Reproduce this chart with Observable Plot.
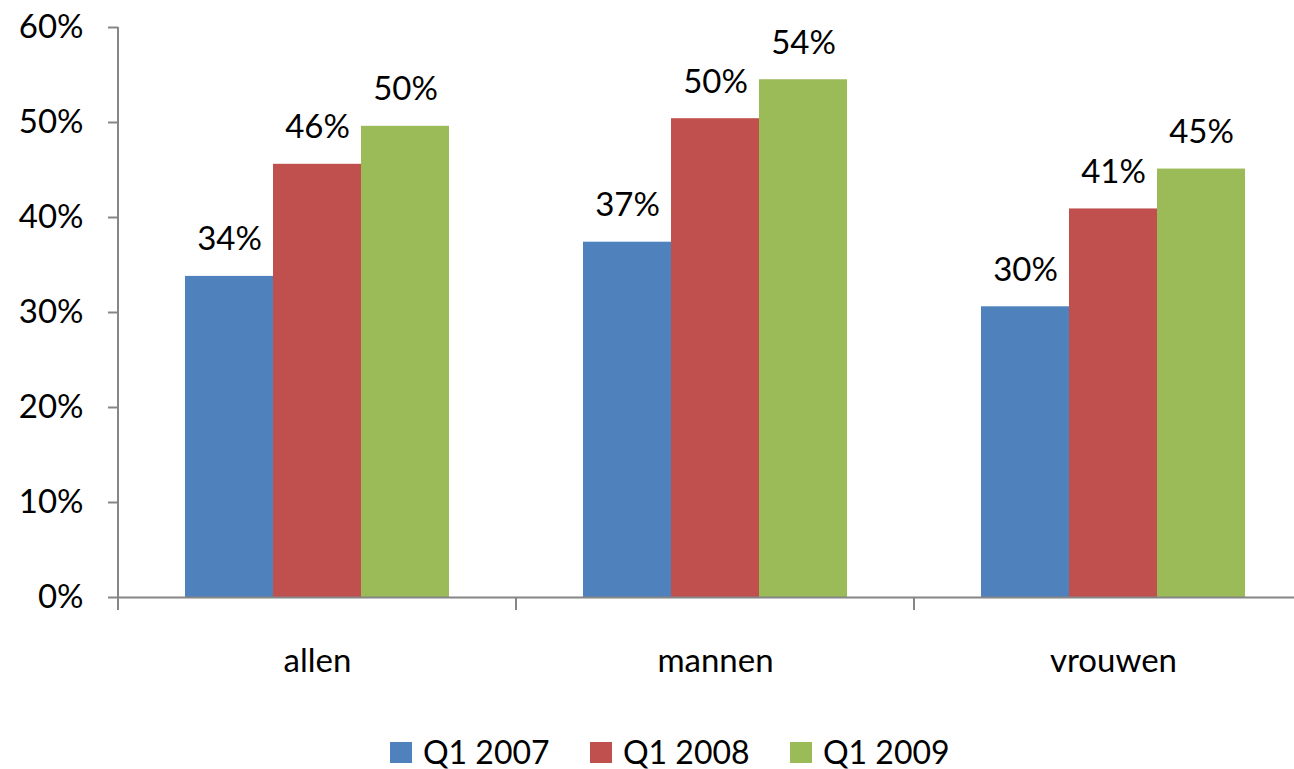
<!DOCTYPE html>
<html>
<head>
<meta charset="utf-8">
<script src="https://cdn.jsdelivr.net/npm/d3@7"></script>
<script src="https://cdn.jsdelivr.net/npm/@observablehq/plot@0.6"></script>
<style>
  html, body { margin: 0; padding: 0; background: #fff; overflow: hidden; }
  #wrap { width: 1294px; overflow: hidden; }
  #wrap svg { max-width: none !important; display: block; }
  #legend { height: 34px; display: flex; align-items: center; padding-left: 390px;
            font-family: Lato, sans-serif; font-size: 32px; line-height: 1; color: #000; }
  .item { width: 200px; display: flex; align-items: center; flex: none; }
  .sw { width: 22px; height: 21px; margin-right: 11px; flex: none; }
</style>
</head>
<body>
<div id="wrap"></div>
<div id="legend"></div>
<script>
const categories = ["allen", "mannen", "vrouwen"];
const series = ["Q1 2007", "Q1 2008", "Q1 2009"];
const values2007 = [33.8, 37.4, 30.6];
const values2008 = [45.6, 50.4, 40.9];
const values2009 = [49.6, 54.5, 45.1];
const labels2007 = ["34%", "37%", "30%"];
const labels2008 = ["46%", "50%", "41%"];
const labels2009 = ["50%", "54%", "45%"];
const yTicks = [0, 10, 20, 30, 40, 50, 60];
const colors = ["#4F81BD", "#C0504D", "#9BBB59"];

const seriesValues = [values2007, values2008, values2009];
const seriesLabels = [labels2007, labels2008, labels2009];
const data = [];
categories.forEach((cat, i) => {
  series.forEach((s, j) => {
    data.push({cat, series: s, value: seriesValues[j][i], label: seriesLabels[j][i]});
  });
});

const axisColor = "#868686";

const chart = Plot.plot({
  width: 1312,
  height: 735,
  marginLeft: 117,
  marginRight: 0,
  marginTop: 27,
  marginBottom: 138,
  style: {fontFamily: "Lato, sans-serif", fontSize: "33px", color: "#000", background: "#fff", maxWidth: "none"},
  fx: {domain: categories, padding: 0, label: null, axis: null},
  x: {domain: series, paddingInner: 0, paddingOuter: 0.754, axis: null},
  y: {domain: [0, 60], axis: null},
  color: {domain: series, range: colors},
  marks: [
    Plot.barY(data, {fx: "cat", x: "series", y: "value", fill: "series"}),
    Plot.text(data, {fx: "cat", x: "series", y: "value", text: "label", dy: -26,
                     lineAnchor: "bottom", fontSize: 33, fill: "#000"}),
    Plot.ruleY([0], {stroke: axisColor, strokeWidth: 2}),
    Plot.axisY({ticks: yTicks, tickFormat: d => d + "%", tickSize: 10, tickPadding: 25,
                stroke: axisColor, strokeWidth: 2, fontSize: 33, fill: "#000", label: null}),
    Plot.axisFx({anchor: "bottom", tickSize: 0, tickPadding: 51, fontSize: 33, fill: "#000", label: null})
  ]
});

// axis line and category boundary ticks, positioned with the plot's own scales
const fxs = chart.scale("fx");
const ys = chart.scale("y");
const g = d3.select(chart).append("g").attr("stroke", axisColor).attr("stroke-width", 2);
const y0 = ys.apply(0), yTop = ys.apply(60);
const left = fxs.apply(categories[0]);
g.append("line").attr("x1", left).attr("x2", left).attr("y1", yTop).attr("y2", y0 + 13);
categories.forEach(c => {
  const x = fxs.apply(c) + fxs.bandwidth;
  g.append("line").attr("x1", x).attr("x2", x).attr("y1", y0).attr("y2", y0 + 13);
});

document.getElementById("wrap").appendChild(chart);

const legend = document.getElementById("legend");
series.forEach((s, i) => {
  const item = document.createElement("div");
  item.className = "item";
  const sw = document.createElement("div");
  sw.className = "sw";
  sw.style.background = colors[i];
  const t = document.createElement("span");
  t.textContent = s;
  item.appendChild(sw);
  item.appendChild(t);
  legend.appendChild(item);
});
</script>
</body>
</html>
